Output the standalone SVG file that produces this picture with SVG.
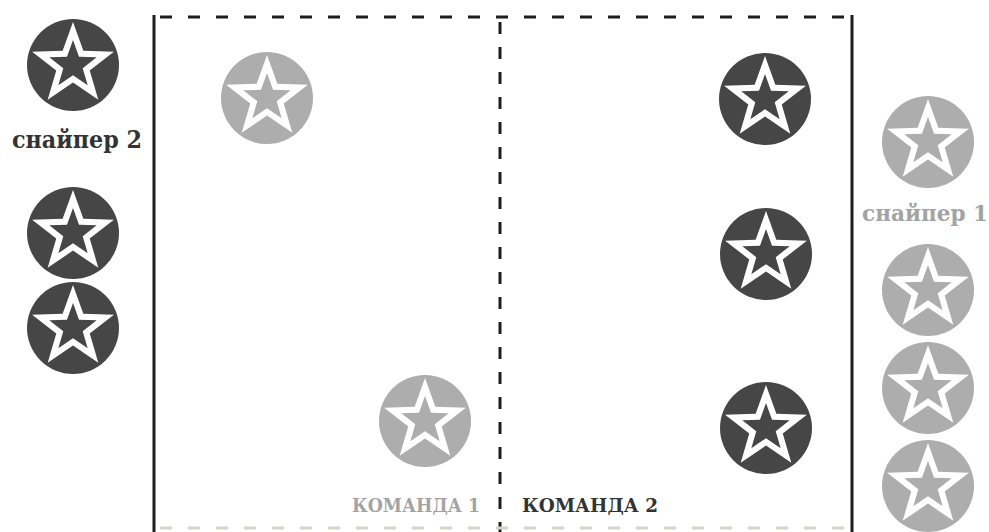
<svg xmlns="http://www.w3.org/2000/svg" xmlns:xlink="http://www.w3.org/1999/xlink" width="989" height="532" viewBox="0 0 989 532">
<style>
.bg{stroke:none}
.dark .bg,.dark .core{fill:#464646}
.light .bg,.light .core{fill:#adadad}
.ring{fill:#ffffff}
.frame{stroke:#1e1e1e;stroke-width:3;fill:none}
.dash{stroke:#1e1e1e;stroke-width:3;fill:none}
.lbl{font-family:"DejaVu Serif","Liberation Serif",serif;font-weight:bold}
.lbl-dark{fill:#333333}
.lbl-light{fill:#a3a3a3}
</style>
<defs>
<polygon id="star" points="0,-43 10.35,-14.24 40.9,-13.3 16.74,5.44 25.3,34.8 0,17.6 -25.3,34.8 -16.74,5.44 -40.9,-13.3 -10.35,-14.24"/>
</defs>
<rect width="989" height="532" fill="#ffffff"/>
<g id="field">
<line class="frame" x1="154" y1="15" x2="154" y2="532"/>
<line class="frame" x1="852" y1="15" x2="852" y2="532"/>
<line class="dash" x1="160" y1="17" x2="852" y2="17" stroke-dasharray="12 16"/>
<line class="dash" x1="500" y1="22" x2="500" y2="532" stroke-dasharray="12 13"/>
<line x1="160" y1="528" x2="852" y2="528" stroke="#d9d5c6" stroke-width="3" stroke-dasharray="12 16"/>
</g>
<g id="connectors"></g>
<g id="sniper2-a" class="dark" transform="translate(73,65)"><circle class="bg" r="46"/><use xlink:href="#star" class="ring"/><use xlink:href="#star" class="core" transform="scale(0.58)"/></g>
<g id="team2-left-a" class="dark" transform="translate(73,233)"><circle class="bg" r="46"/><use xlink:href="#star" class="ring"/><use xlink:href="#star" class="core" transform="scale(0.58)"/></g>
<g id="team2-left-b" class="dark" transform="translate(73,328)"><circle class="bg" r="46"/><use xlink:href="#star" class="ring"/><use xlink:href="#star" class="core" transform="scale(0.58)"/></g>
<g id="team1-a" class="light" transform="translate(267,98)"><circle class="bg" r="46"/><use xlink:href="#star" class="ring"/><use xlink:href="#star" class="core" transform="scale(0.58)"/></g>
<g id="team1-b" class="light" transform="translate(425,421)"><circle class="bg" r="46"/><use xlink:href="#star" class="ring"/><use xlink:href="#star" class="core" transform="scale(0.58)"/></g>
<g id="team2-a" class="dark" transform="translate(765,99)"><circle class="bg" r="46"/><use xlink:href="#star" class="ring"/><use xlink:href="#star" class="core" transform="scale(0.58)"/></g>
<g id="team2-b" class="dark" transform="translate(766,254)"><circle class="bg" r="46"/><use xlink:href="#star" class="ring"/><use xlink:href="#star" class="core" transform="scale(0.58)"/></g>
<g id="team2-c" class="dark" transform="translate(766,428)"><circle class="bg" r="46"/><use xlink:href="#star" class="ring"/><use xlink:href="#star" class="core" transform="scale(0.58)"/></g>
<g id="sniper1-a" class="light" transform="translate(928,142)"><circle class="bg" r="46"/><use xlink:href="#star" class="ring"/><use xlink:href="#star" class="core" transform="scale(0.58)"/></g>
<g id="team1-right-a" class="light" transform="translate(928,290)"><circle class="bg" r="46"/><use xlink:href="#star" class="ring"/><use xlink:href="#star" class="core" transform="scale(0.58)"/></g>
<g id="team1-right-b" class="light" transform="translate(928,388)"><circle class="bg" r="46"/><use xlink:href="#star" class="ring"/><use xlink:href="#star" class="core" transform="scale(0.58)"/></g>
<g id="team1-right-c" class="light" transform="translate(928,486)"><circle class="bg" r="46"/><use xlink:href="#star" class="ring"/><use xlink:href="#star" class="core" transform="scale(0.58)"/></g>
<g id="labels">
<text class="lbl lbl-dark" x="12" y="148" font-size="24" textLength="130" lengthAdjust="spacingAndGlyphs">снайпер 2</text>
<text class="lbl lbl-light" x="862" y="221" font-size="22" textLength="126" lengthAdjust="spacingAndGlyphs">снайпер 1</text>
<text class="lbl lbl-light" x="352" y="512" font-size="18" textLength="128" lengthAdjust="spacingAndGlyphs">КОМАНДА 1</text>
<text class="lbl lbl-dark" x="522" y="512" font-size="18" textLength="136" lengthAdjust="spacingAndGlyphs">КОМАНДА 2</text>
</g>
</svg>
